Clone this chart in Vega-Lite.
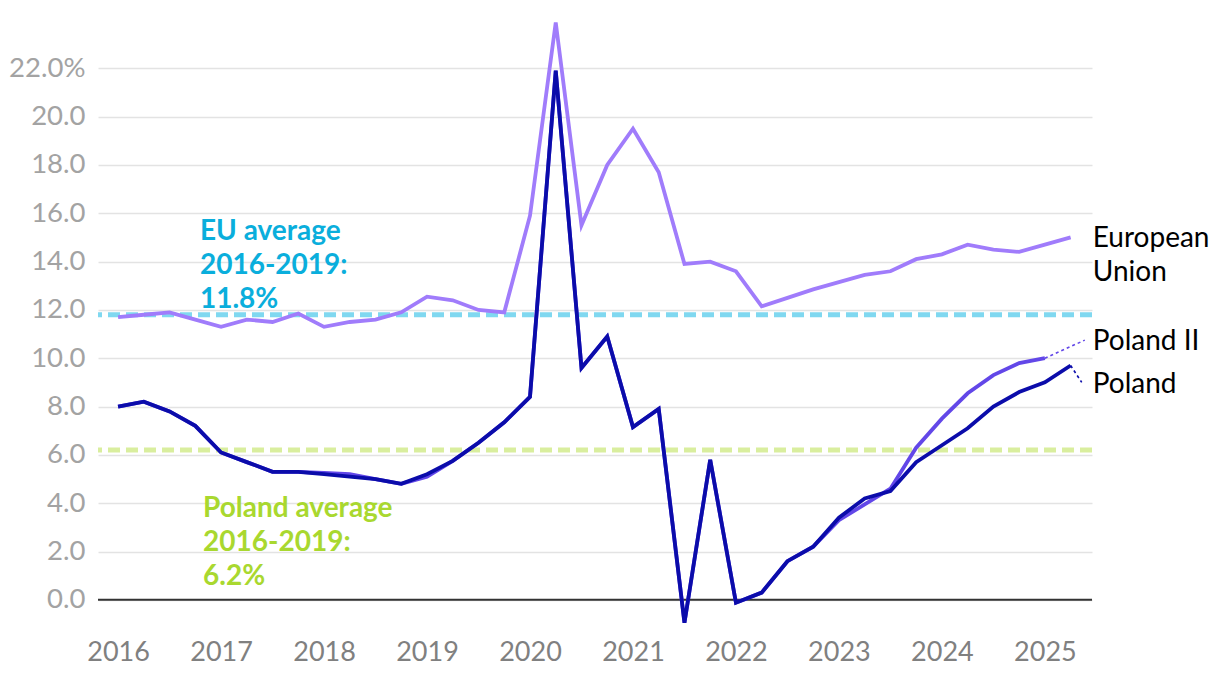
{
  "$schema": "https://vega.github.io/schema/vega-lite/v6.json",
  "width": 994,
  "height": 604,
  "autosize": {"type": "none"},
  "padding": {"left": 98, "top": 20, "right": 128, "bottom": 54},
  "background": "white",
  "config": {
    "view": {"stroke": null},
    "font": "Lato",
    "axis": {"labelFont": "Lato", "title": null}
  },
  "datasets": {
    "lines": [
      {"i":0,"s":"EU","v":11.7},{"i":1,"s":"EU","v":11.8},{"i":2,"s":"EU","v":11.9},{"i":3,"s":"EU","v":11.6},{"i":4,"s":"EU","v":11.3},{"i":5,"s":"EU","v":11.6},{"i":6,"s":"EU","v":11.5},{"i":7,"s":"EU","v":11.85},{"i":8,"s":"EU","v":11.3},{"i":9,"s":"EU","v":11.5},{"i":10,"s":"EU","v":11.6},{"i":11,"s":"EU","v":11.9},{"i":12,"s":"EU","v":12.55},{"i":13,"s":"EU","v":12.4},{"i":14,"s":"EU","v":12.0},{"i":15,"s":"EU","v":11.9},{"i":16,"s":"EU","v":15.9},{"i":17,"s":"EU","v":23.9},{"i":18,"s":"EU","v":15.5},{"i":19,"s":"EU","v":18.0},{"i":20,"s":"EU","v":19.5},{"i":21,"s":"EU","v":17.7},{"i":22,"s":"EU","v":13.9},{"i":23,"s":"EU","v":14.0},{"i":24,"s":"EU","v":13.6},{"i":25,"s":"EU","v":12.15},{"i":26,"s":"EU","v":12.5},{"i":27,"s":"EU","v":12.85},{"i":28,"s":"EU","v":13.15},{"i":29,"s":"EU","v":13.45},{"i":30,"s":"EU","v":13.6},{"i":31,"s":"EU","v":14.1},{"i":32,"s":"EU","v":14.3},{"i":33,"s":"EU","v":14.7},{"i":34,"s":"EU","v":14.5},{"i":35,"s":"EU","v":14.4},{"i":36,"s":"EU","v":14.7},{"i":37,"s":"EU","v":15.0},
      {"i":0,"s":"PL2","v":8.0},{"i":1,"s":"PL2","v":8.2},{"i":2,"s":"PL2","v":7.8},{"i":3,"s":"PL2","v":7.2},{"i":4,"s":"PL2","v":6.1},{"i":5,"s":"PL2","v":5.7},{"i":6,"s":"PL2","v":5.3},{"i":7,"s":"PL2","v":5.3},{"i":8,"s":"PL2","v":5.25},{"i":9,"s":"PL2","v":5.2},{"i":10,"s":"PL2","v":5.0},{"i":11,"s":"PL2","v":4.8},{"i":12,"s":"PL2","v":5.1},{"i":13,"s":"PL2","v":5.75},{"i":14,"s":"PL2","v":6.5},{"i":15,"s":"PL2","v":7.35},{"i":16,"s":"PL2","v":8.4},{"i":17,"s":"PL2","v":21.9},{"i":18,"s":"PL2","v":9.6},{"i":19,"s":"PL2","v":10.9},{"i":20,"s":"PL2","v":7.15},{"i":21,"s":"PL2","v":7.9},{"i":22,"s":"PL2","v":-0.95},{"i":23,"s":"PL2","v":5.8},{"i":24,"s":"PL2","v":-0.12},{"i":25,"s":"PL2","v":0.3},{"i":26,"s":"PL2","v":1.6},{"i":27,"s":"PL2","v":2.2},{"i":28,"s":"PL2","v":3.3},{"i":29,"s":"PL2","v":3.95},{"i":30,"s":"PL2","v":4.6},{"i":31,"s":"PL2","v":6.3},{"i":32,"s":"PL2","v":7.5},{"i":33,"s":"PL2","v":8.55},{"i":34,"s":"PL2","v":9.3},{"i":35,"s":"PL2","v":9.8},{"i":36,"s":"PL2","v":10.0},
      {"i":0,"s":"PL","v":8.0},{"i":1,"s":"PL","v":8.2},{"i":2,"s":"PL","v":7.8},{"i":3,"s":"PL","v":7.2},{"i":4,"s":"PL","v":6.1},{"i":5,"s":"PL","v":5.7},{"i":6,"s":"PL","v":5.3},{"i":7,"s":"PL","v":5.3},{"i":8,"s":"PL","v":5.2},{"i":9,"s":"PL","v":5.1},{"i":10,"s":"PL","v":5.0},{"i":11,"s":"PL","v":4.8},{"i":12,"s":"PL","v":5.2},{"i":13,"s":"PL","v":5.75},{"i":14,"s":"PL","v":6.5},{"i":15,"s":"PL","v":7.35},{"i":16,"s":"PL","v":8.4},{"i":17,"s":"PL","v":21.9},{"i":18,"s":"PL","v":9.6},{"i":19,"s":"PL","v":10.9},{"i":20,"s":"PL","v":7.15},{"i":21,"s":"PL","v":7.9},{"i":22,"s":"PL","v":-0.95},{"i":23,"s":"PL","v":5.8},{"i":24,"s":"PL","v":-0.12},{"i":25,"s":"PL","v":0.3},{"i":26,"s":"PL","v":1.6},{"i":27,"s":"PL","v":2.2},{"i":28,"s":"PL","v":3.4},{"i":29,"s":"PL","v":4.2},{"i":30,"s":"PL","v":4.5},{"i":31,"s":"PL","v":5.7},{"i":32,"s":"PL","v":6.4},{"i":33,"s":"PL","v":7.1},{"i":34,"s":"PL","v":8.0},{"i":35,"s":"PL","v":8.6},{"i":36,"s":"PL","v":9.0},{"i":37,"s":"PL","v":9.7}
    ],
    "leaders": [
      {"i":36,"s":"PL2","v":10.0},{"i":37.55,"s":"PL2","v":10.75},
      {"i":37,"s":"PL","v":9.7},{"i":37.43,"s":"PL","v":9.0}
    ],
    "avgs": [
      {"s":"EUavg","v":11.8},
      {"s":"PLavg","v":6.2}
    ],
    "zero": [{"v":0}],
    "endlabels": [
      {"i":37.86,"v":14.6,"t":["European","Union"]},
      {"i":37.86,"v":10.34,"t":["Poland II"]},
      {"i":37.86,"v":8.56,"t":["Poland"]}
    ],
    "notes": [
      {"i":3.18,"v":14.89,"s":"EUnote","t":["EU average","2016-2019:","11.8%"]},
      {"i":3.3,"v":3.43,"s":"PLnote","t":["Poland average","2016-2019:","6.2%"]}
    ]
  },
  "layer": [
    {
      "data": {"name": "avgs"},
      "mark": {"type": "rule", "strokeWidth": 5, "strokeDash": [12, 6]},
      "encoding": {
        "y": {"field": "v", "type": "quantitative", "scale": {"domain": [-1, 24], "nice": false, "zero": false},
          "axis": {"values": [0,2,4,6,8,10,12,14,16,18,20,22], "grid": true, "gridColor": "#e3e3e3", "gridWidth": 1.6, "domain": false, "ticks": false, "labelFontSize": 27.5, "labelColor": "#a3a3a3", "labelPadding": 13,
            "labelExpr": "datum.value == 22 ? '22.0%' : format(datum.value, '.1f')"}},
        "color": {"field": "s", "type": "nominal", "legend": null,
          "scale": {"domain": ["EUavg","PLavg","EU","PL2","PL","EUnote","PLnote"], "range": ["#80d8f0","#d9ee9e","#a07cfb","#6247e8","#0b0caa","#0aaedc","#a9d82f"]}}
      }
    },
    {
      "data": {"name": "zero"},
      "mark": {"type": "rule", "color": "#333333", "strokeWidth": 2},
      "encoding": {"y": {"field": "v", "type": "quantitative"}}
    },
    {
      "data": {"name": "lines"},
      "mark": {"type": "line", "strokeWidth": 3.8, "strokeJoin": "miter"},
      "encoding": {
        "x": {"field": "i", "type": "quantitative", "scale": {"domain": [-0.78, 37.83], "nice": false, "zero": false},
          "axis": {"values": [0,4,8,12,16,20,24,28,32,36], "grid": false, "domain": false, "ticks": false, "labelFontSize": 27, "labelColor": "#808080", "labelPadding": 15,
            "labelExpr": "'' + (2016 + datum.value / 4)"}},
        "y": {"field": "v", "type": "quantitative"},
        "color": {"field": "s", "type": "nominal"},
        "order": {"field": "i", "type": "quantitative"}
      }
    },
    {
      "data": {"name": "leaders"},
      "mark": {"type": "line", "strokeWidth": 1.6, "strokeDash": [3, 3], "clip": false},
      "encoding": {
        "x": {"field": "i", "type": "quantitative"},
        "y": {"field": "v", "type": "quantitative"},
        "color": {"field": "s", "type": "nominal"},
        "order": {"field": "i", "type": "quantitative"}
      }
    },
    {
      "data": {"name": "endlabels"},
      "mark": {"type": "text", "align": "left", "baseline": "alphabetic", "fontSize": 28, "font": "Lato", "color": "#000000", "lineHeight": 34},
      "encoding": {
        "x": {"field": "i", "type": "quantitative"},
        "y": {"field": "v", "type": "quantitative"},
        "text": {"field": "t"}
      }
    },
    {
      "data": {"name": "notes"},
      "mark": {"type": "text", "align": "left", "baseline": "alphabetic", "fontSize": 28, "font": "Lato", "fontWeight": "bold", "lineHeight": 34},
      "encoding": {
        "x": {"field": "i", "type": "quantitative"},
        "y": {"field": "v", "type": "quantitative"},
        "text": {"field": "t"},
        "color": {"field": "s", "type": "nominal"}
      }
    }
  ]
}
